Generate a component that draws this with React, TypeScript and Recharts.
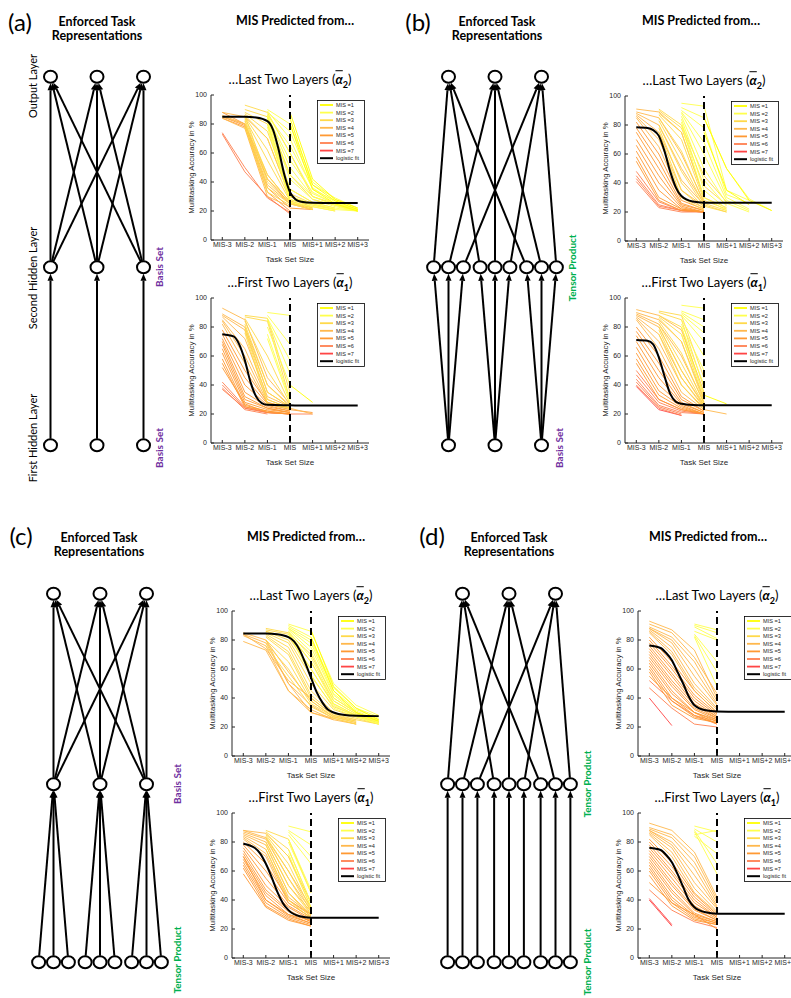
import React from "react";
import {
  LineChart,
  Line,
  XAxis,
  YAxis,
  ReferenceLine,
  Legend,
  ScatterChart,
  Scatter,
} from "recharts";

const N = null;
type MisRow = (number | null)[]; // [mis, v(MIS-3) .. v(MIS+3)]
type FitPt = [number, number];

const taskSetLabels = ["MIS-3", "MIS-2", "MIS-1", "MIS", "MIS+1", "MIS+2", "MIS+3"];
const xTicks = [0, 1, 2, 3, 4, 5, 6];
const yTicks = [0, 20, 40, 60, 80, 100];
const misLevels = [1, 2, 3, 4, 5, 6, 7];
const misColors = ["#ffff00", "#ffff4d", "#ffd94a", "#ffb84d", "#ff9933", "#ff7f50", "#ff4545"];

// (a) basis set / basis set
const linesA2: MisRow[] = [
  [6, 74, 50, 29, 19, N, N, N],
  [6, 73, 47, 30, 18, N, N, N],
  [5, 85, 79, 36, 22, 21, N, N],
  [5, 88, 80, 42, 25, 21, N, N],
  [5, 84, 78, 33, 20, N, N, N],
  [4, 88, 85, 70, 30, 22, N, N],
  [4, 86, 80, 45, 26, 21, N, N],
  [4, 85, 80, 38, 25, N, N, N],
  [4, 84, 77, 30, 23, N, N, N],
  [3, N, 93, 88, 60, 30, 25, 21],
  [3, N, 90, 85, 45, 28, 24, 20],
  [3, N, 88, 80, 35, 26, 22, N],
  [3, N, 87, 75, 32, 25, 21, N],
  [3, N, 86, 70, 30, 24, 21, N],
  [3, N, 85, 62, 28, 23, 20, N],
  [3, N, 84, 55, 27, 22, N, N],
  [3, N, 83, 45, 26, 22, N, N],
  [3, N, 82, 40, 25, 21, N, N],
  [3, N, 80, 36, 25, 21, N, N],
  [3, N, 78, 33, 24, N, N, N],
  [3, N, 86, 42, 27, 22, N, N],
  [2, N, N, 90, 80, 40, 28, 22],
  [2, N, N, 89, 70, 35, 27, 21],
  [2, N, N, 87, 60, 32, 25, 21],
  [2, N, N, 86, 50, 30, 24, 20],
  [2, N, N, 85, 42, 28, 23, 20],
  [2, N, N, 84, 35, 26, 22, 20],
  [2, N, N, 82, 30, 25, 21, 20],
  [2, N, N, 80, 28, 24, 21, N],
  [2, N, N, 88, 75, 38, 29, 22],
  [2, N, N, 78, 26, 23, 20, N],
  [2, N, N, 86, 65, 36, 26, 21],
  [2, N, N, 85, 55, 33, 25, 21],
  [2, N, N, 83, 45, 30, 24, 20],
  [1, N, N, N, 88, 42, 28, 22],
  [1, N, N, N, 84, 38, 27, 21],
  [1, N, N, N, 80, 35, 25, 20],
];
const fitA2: FitPt[] = [
  [0, 85], [0.5, 85], [1, 85], [1.5, 84.5], [2, 82], [2.25, 76], [2.5, 62], [2.75, 45],
  [3, 33], [3.25, 28], [3.5, 26.4], [4, 25.7], [5, 25.5], [6, 25.5],
];

const linesA1: MisRow[] = [
  [1, N, N, N, 40, 28, N, N],
  [2, N, N, 90, 88, N, N, N],
  [2, N, N, 88, 68, N, N, N],
  [2, N, N, 86, 57, N, N, N],
  [2, N, N, 85, 48, N, N, N],
  [2, N, N, 80, 40, N, N, N],
  [2, N, N, 75, 30, N, N, N],
  [2, N, N, 72, 28, N, N, N],
  [3, N, 88, 86, 35, N, N, N],
  [3, N, 87, 84, 30, N, N, N],
  [3, N, 86, 60, 27, N, N, N],
  [3, N, 84, 50, 26, N, N, N],
  [3, N, 82, 40, 25, N, N, N],
  [3, N, 80, 35, 25, N, N, N],
  [3, N, 78, 30, 24, N, N, N],
  [3, N, 76, 27, 24, N, N, N],
  [4, 93, 85, 45, 27, N, N, N],
  [4, 89, 80, 40, 26, N, N, N],
  [4, 88, 78, 35, 25, N, N, N],
  [4, 87, 72, 32, 25, N, N, N],
  [4, 85, 65, 30, 24, 20, N, N],
  [4, 84, 60, 28, 24, N, N, N],
  [4, 82, 55, 27, 23, N, N, N],
  [5, 78, 50, 28, 24, N, N, N],
  [5, 75, 45, 27, 23, 21, N, N],
  [5, 72, 40, 26, 22, N, N, N],
  [5, 70, 35, 25, 22, N, N, N],
  [5, 68, 32, 24, 21, N, N, N],
  [5, 65, 30, 24, 21, N, N, N],
  [5, 62, 28, 23, 21, N, N, N],
  [5, 58, 26, 22, 20, N, N, N],
  [5, 55, 25, 22, 20, N, N, N],
  [5, 52, 27, 21, 20, N, N, N],
  [6, 42, 25, 21, 20, 20, N, N],
  [6, 40, 24, 21, 20, N, N, N],
  [6, 38, 23, 20, N, N, N, N],
  [6, 37, 24, 21, 20, N, N, N],
];
const fitA1: FitPt[] = [
  [0, 75], [0.5, 73.5], [0.75, 68], [1, 57], [1.25, 42], [1.5, 32], [1.75, 27.5],
  [2, 26.3], [3, 26], [4, 25.8], [6, 25.8],
];

// (b) tensor product / basis set
const linesB2: MisRow[] = [
  [1, N, N, N, 85, 50, 28, 21],
  [1, N, N, N, 75, 35, 25, N],
  [2, N, N, 95, 93, 35, 28, N],
  [2, N, N, 92, 85, 50, 29, 21],
  [2, N, N, 90, 78, 32, 26, N],
  [2, N, N, 89, 68, 30, 22, N],
  [2, N, N, 88, 60, 28, 21, N],
  [2, N, N, 86, 50, 26, 20, N],
  [2, N, N, 84, 42, 24, N, N],
  [2, N, N, 82, 35, 22, N, N],
  [2, N, N, 80, 30, 21, N, N],
  [3, N, 91, 80, 45, 27, N, N],
  [3, N, 90, 78, 38, 25, N, N],
  [3, N, 88, 75, 30, 23, N, N],
  [3, N, 87, 70, 28, 22, N, N],
  [3, N, 85, 62, 26, 21, N, N],
  [3, N, 83, 55, 25, 20, N, N],
  [3, N, 80, 48, 24, 20, N, N],
  [3, N, 78, 40, 23, N, N, N],
  [3, N, 75, 35, 22, N, N, N],
  [3, N, 72, 30, 21, N, N, N],
  [4, 91, 89, 75, 30, N, N, N],
  [4, 89, 85, 60, 27, N, N, N],
  [4, 88, 80, 50, 26, N, N, N],
  [4, 87, 75, 42, 25, N, N, N],
  [4, 86, 70, 35, 24, N, N, N],
  [4, 85, 65, 30, 23, N, N, N],
  [5, 82, 60, 28, 22, N, N, N],
  [5, 78, 55, 26, 21, N, N, N],
  [5, 75, 50, 25, 21, N, N, N],
  [5, 70, 45, 24, 20, N, N, N],
  [5, 66, 40, 23, 20, N, N, N],
  [5, 62, 35, 22, 20, N, N, N],
  [5, 58, 30, 22, 20, N, N, N],
  [5, 55, 28, 21, 20, N, N, N],
  [6, 48, 27, 21, 20, N, N, N],
  [6, 45, 25, 21, 20, N, N, N],
  [6, 43, 24, 21, 20, N, N, N],
  [6, 41, 23, 20, 20, N, N, N],
];
const fitB2: FitPt[] = [
  [0, 78.5], [0.5, 78], [0.75, 76.5], [1, 72.5], [1.25, 62], [1.5, 48], [1.75, 37],
  [2, 31], [2.5, 27.2], [3, 26.4], [4, 26.3], [6, 26.3],
];

const linesB1: MisRow[] = [
  [1, N, N, N, 33, 27, N, N],
  [2, N, N, 95, 93, N, N, N],
  [2, N, N, 91, 85, N, N, N],
  [2, N, N, 90, 80, N, N, N],
  [2, N, N, 89, 76, N, N, N],
  [2, N, N, 88, 70, N, N, N],
  [2, N, N, 85, 60, N, N, N],
  [2, N, N, 82, 50, N, N, N],
  [2, N, N, 80, 40, N, N, N],
  [2, N, N, 75, 34, N, N, N],
  [3, N, 91, 88, 45, N, N, N],
  [3, N, 90, 85, 38, N, N, N],
  [3, N, 88, 80, 32, N, N, N],
  [3, N, 87, 75, 30, N, N, N],
  [3, N, 86, 70, 28, N, N, N],
  [3, N, 84, 62, 27, N, N, N],
  [3, N, 82, 55, 26, N, N, N],
  [3, N, 80, 50, 25, N, N, N],
  [3, N, 78, 45, 24, N, N, N],
  [3, N, 75, 40, 23, N, N, N],
  [4, 92, 88, 78, 35, N, N, N],
  [4, 90, 85, 70, 30, N, N, N],
  [4, 89, 82, 60, 28, N, N, N],
  [4, 88, 80, 50, 26, N, N, N],
  [4, 87, 75, 45, 25, N, N, N],
  [4, 86, 70, 40, 24, N, N, N],
  [4, 85, 65, 35, 23, 20, N, N],
  [5, 80, 60, 32, 22, N, N, N],
  [5, 77, 55, 30, 22, N, N, N],
  [5, 74, 50, 28, 21, N, N, N],
  [5, 70, 45, 27, 21, N, N, N],
  [5, 66, 40, 26, 20, N, N, N],
  [5, 62, 36, 25, 20, N, N, N],
  [5, 58, 33, 24, 20, N, N, N],
  [5, 55, 30, 23, 20, N, N, N],
  [6, 50, 30, 23, 20, N, N, N],
  [6, 47, 28, 22, 20, N, N, N],
  [6, 44, 26, 21, 20, N, N, N],
  [6, 42, 25, 20, N, N, N, N],
  [6, 40, 24, 19, N, N, N, N],
  [7, 39, 23, 19, N, N, N, N],
];
const fitB1: FitPt[] = [
  [0, 71], [0.5, 70.5], [0.75, 68], [1, 59], [1.25, 46], [1.5, 34], [1.75, 28.5],
  [2, 27], [2.5, 26.2], [3, 26], [6, 26],
];

// (c) basis set / tensor product
const linesC2: MisRow[] = [
  [4, 85, 80, 58, 38, 27, 23, N],
  [4, 84, 78, 50, 35, 26, 22, N],
  [4, 83, 76, 45, 32, 25, N, N],
  [4, 79, 73, 45, 30, 26, N, N],
  [4, 84, 74, 52, 40, 28, 24, N],
  [4, N, 80, 50, 30, 25, 22, N],
  [3, N, 88, 85, 70, 40, 30, 25],
  [3, N, 87, 84, 65, 38, 29, 24],
  [3, N, 86, 82, 60, 36, 28, 24],
  [3, N, 86, 80, 55, 34, 28, 23],
  [3, N, 85, 78, 50, 32, 27, 23],
  [3, N, 84, 75, 45, 30, 26, 22],
  [3, N, 83, 72, 42, 29, 25, 22],
  [3, N, 82, 70, 40, 28, 25, N],
  [3, N, 80, 65, 38, 27, 24, N],
  [3, N, 78, 60, 36, 27, 23, N],
  [3, N, 76, 55, 34, 26, 22, N],
  [2, N, N, 91, 86, 50, 35, 28],
  [2, N, N, 90, 82, 47, 33, 27],
  [2, N, N, 89, 80, 45, 32, 26],
  [2, N, N, 88, 78, 43, 31, 25],
  [2, N, N, 88, 75, 42, 30, 24],
  [2, N, N, 87, 72, 40, 30, 23],
  [2, N, N, 86, 68, 38, 29, 23],
  [2, N, N, 85, 65, 36, 28, 22],
  [2, N, N, 84, 60, 35, 27, 22],
  [2, N, N, 84, 56, 33, 27, N],
  [1, N, N, N, 87, 48, 33, 25],
  [1, N, N, N, 82, 45, 30, 24],
];
const fitC2: FitPt[] = [
  [0, 84.5], [1, 84.5], [1.5, 84], [2, 82], [2.25, 79], [2.5, 73], [2.75, 64], [3, 54],
  [3.25, 44], [3.5, 37], [3.75, 32], [4, 30], [4.5, 28.2], [5, 27.7], [6, 27.5],
];

const linesC1: MisRow[] = [
  [2, N, N, 91, 87, N, N, N],
  [2, N, N, 88, 78, N, N, N],
  [2, N, N, 87, 70, N, N, N],
  [2, N, N, 85, 65, N, N, N],
  [2, N, N, 82, 47, N, N, N],
  [2, N, N, 80, 45, N, N, N],
  [2, N, N, 75, 38, N, N, N],
  [2, N, N, 72, 35, N, N, N],
  [3, N, 88, 82, 45, N, N, N],
  [3, N, 87, 75, 38, N, N, N],
  [3, N, 86, 70, 35, N, N, N],
  [3, N, 85, 65, 33, N, N, N],
  [3, N, 84, 60, 32, N, N, N],
  [3, N, 83, 55, 30, N, N, N],
  [3, N, 80, 50, 30, N, N, N],
  [3, N, 78, 45, 28, N, N, N],
  [3, N, 75, 40, 27, N, N, N],
  [4, 88, 86, 70, 38, N, N, N],
  [4, 88, 83, 60, 35, N, N, N],
  [4, 87, 82, 55, 33, N, N, N],
  [4, 86, 80, 50, 32, N, N, N],
  [4, 85, 78, 45, 30, N, N, N],
  [4, 84, 75, 42, 30, N, N, N],
  [4, 83, 72, 40, 29, N, N, N],
  [4, 82, 70, 38, 28, N, N, N],
  [5, 80, 65, 40, 30, N, N, N],
  [5, 78, 60, 38, 28, N, N, N],
  [5, 76, 55, 36, 27, N, N, N],
  [5, 74, 50, 35, 26, N, N, N],
  [5, 72, 47, 33, 25, N, N, N],
  [5, 70, 45, 32, 25, N, N, N],
  [5, 68, 43, 30, 24, N, N, N],
  [5, 66, 40, 29, 24, N, N, N],
  [5, 64, 38, 28, 23, N, N, N],
  [5, 62, 36, 27, 22, N, N, N],
  [5, 58, 35, 26, 22, N, N, N],
  [5, 70, 40, 30, 26, N, N, N],
];
const fitC1: FitPt[] = [
  [0, 78.8], [0.5, 76], [0.75, 72], [1, 65], [1.25, 56], [1.5, 46], [1.75, 38],
  [2, 33], [2.5, 28.8], [3, 27.8], [4, 27.7], [6, 27.7],
];

// (d) tensor product / tensor product
const linesD2: MisRow[] = [
  [2, N, N, 91, 87, N, N, N],
  [2, N, N, 90, 85, N, N, N],
  [2, N, N, 89, 81, N, N, N],
  [2, N, N, 86, 80, N, N, N],
  [2, N, N, 84, 65, N, N, N],
  [2, N, N, 83, 58, N, N, N],
  [2, N, N, 82, 48, N, N, N],
  [4, 93, 87, 73, 40, N, N, N],
  [4, 91, 85, 68, 43, N, N, N],
  [4, 89, 82, 65, 38, N, N, N],
  [4, 88, 80, 60, 36, N, N, N],
  [4, 88, 78, 55, 35, N, N, N],
  [4, 87, 75, 50, 33, N, N, N],
  [4, 86, 72, 47, 32, N, N, N],
  [4, 85, 70, 45, 30, N, N, N],
  [5, 82, 65, 45, 30, N, N, N],
  [5, 80, 62, 42, 29, N, N, N],
  [5, 78, 60, 40, 28, N, N, N],
  [5, 76, 57, 38, 27, N, N, N],
  [5, 74, 55, 36, 27, N, N, N],
  [5, 72, 52, 35, 26, N, N, N],
  [5, 70, 50, 33, 26, N, N, N],
  [5, 68, 48, 32, 25, N, N, N],
  [5, 66, 45, 30, 25, N, N, N],
  [5, 64, 43, 30, 24, N, N, N],
  [5, 62, 40, 28, 24, N, N, N],
  [5, 60, 38, 27, 23, N, N, N],
  [5, 58, 35, 26, 23, N, N, N],
  [5, 55, 40, 30, 22, N, N, N],
  [6, 52, 38, 28, 22, N, N, N],
  [6, 47, 33, 22, 20, N, N, N],
  [7, 40, 21, N, N, N, N, N],
];
const fitD2: FitPt[] = [
  [0, 76.2], [0.5, 74.5], [0.75, 71], [1, 66], [1.25, 58], [1.5, 50], [1.75, 41],
  [2, 35], [2.5, 31.5], [3, 30.7], [4, 30.5], [6, 30.5],
];

const linesD1: MisRow[] = [
  [2, N, N, 91, 87, N, N, N],
  [2, N, N, 89, 80, N, N, N],
  [2, N, N, 85, 88, N, N, N],
  [2, N, N, 88, 65, N, N, N],
  [2, N, N, 87, 58, N, N, N],
  [2, N, N, 84, 72, N, N, N],
  [4, 93, 88, 73, 42, N, N, N],
  [4, 90, 85, 70, 40, N, N, N],
  [4, 89, 83, 66, 38, N, N, N],
  [4, 88, 80, 62, 36, N, N, N],
  [4, 88, 78, 57, 35, N, N, N],
  [4, 87, 76, 52, 34, N, N, N],
  [4, 86, 73, 48, 32, N, N, N],
  [4, 85, 70, 45, 31, N, N, N],
  [5, 82, 66, 44, 30, N, N, N],
  [5, 80, 63, 42, 29, N, N, N],
  [5, 78, 60, 40, 28, N, N, N],
  [5, 76, 58, 38, 28, N, N, N],
  [5, 74, 55, 36, 27, N, N, N],
  [5, 72, 52, 34, 26, N, N, N],
  [5, 70, 50, 33, 26, N, N, N],
  [5, 68, 47, 31, 25, N, N, N],
  [5, 66, 45, 30, 25, N, N, N],
  [5, 64, 42, 29, 24, N, N, N],
  [5, 62, 40, 28, 24, N, N, N],
  [5, 60, 38, 27, 23, N, N, N],
  [5, 57, 36, 26, 23, N, N, N],
  [5, 52, 38, 30, 20, N, N, N],
  [6, 47, 33, 25, 21, N, N, N],
  [7, 41, 23, N, N, N, N, N],
  [7, 40, 22, N, N, N, N, N],
];
const fitD1: FitPt[] = [
  [0, 76], [0.5, 74.5], [0.75, 71], [1, 66], [1.25, 58], [1.5, 49], [1.75, 40],
  [2, 35], [2.5, 31.5], [3, 30.6], [4, 30.5], [6, 30.5],
];

// network layouts: column position and layer level
const layerLevel = [0, 1, 2.07];
const basisCols = [0, 1, 2];
const tensorCols = [-0.32, 0, 0.32, 0.68, 1, 1.32, 1.68, 2, 2.32];

const titleFont = "Lato, 'Open Sans', sans-serif";
const axisFont = "'Liberation Sans', Arial, sans-serif";
const axisInk = "#262626";
const PLOT_W = 158;
const PLOT_H = 145;

type Pt = { x: number; y: number };
const layer = (cols: number[], level: number): Pt[] =>
  cols.map((x) => ({ x, y: layerLevel[level] }));

function ArrowEdge(props: any) {
  const { x1, y1, x2, y2 } = props;
  const dx = x2 - x1;
  const dy = y2 - y1;
  const len = Math.hypot(dx, dy) || 1;
  const ux = dx / len;
  const uy = dy / len;
  const r = 6.5;
  const sx = x1 + ux * r;
  const sy = y1 + uy * r;
  const ex = x2 - ux * r;
  const ey = y2 - uy * r;
  const bx = ex - ux * 7;
  const by = ey - uy * 7;
  const px = -uy * 3;
  const py = ux * 3;
  return (
    <g>
      <line x1={sx} y1={sy} x2={bx} y2={by} stroke="#000" strokeWidth={2} />
      <polygon points={`${ex},${ey} ${bx + px},${by + py} ${bx - px},${by - py}`} fill="#000" />
    </g>
  );
}

function NodeShape(props: any) {
  return (
    <ellipse cx={props.cx} cy={props.cy} rx={6.5} ry={6} fill="#fff" stroke="#000" strokeWidth={2} />
  );
}

function Network({ left, top, nodes, edges }: { left: number; top: number; nodes: Pt[]; edges: [Pt, Pt][] }) {
  return (
    <div style={{ position: "absolute", left, top }}>
      <ScatterChart width={186} height={404} margin={{ top: 0, right: 0, bottom: 0, left: 0 }}>
        <XAxis type="number" dataKey="x" domain={[-1, 3]} hide />
        <YAxis type="number" dataKey="y" domain={[-0.1, 2.17]} hide />
        {edges.map(([a, b], i) => (
          <ReferenceLine key={i} segment={[a, b]} shape={ArrowEdge} ifOverflow="visible" />
        ))}
        <Scatter data={nodes} shape={NodeShape} isAnimationActive={false} />
      </ScatterChart>
    </div>
  );
}

function buildNet(bottom: number[], middle: number[], topCols: number[]) {
  const bot = layer(bottom, 0);
  const mid = layer(middle, 1);
  const out = layer(topCols, 2);
  const edges: [Pt, Pt][] = [];
  // middle -> output
  if (middle.length === 3) {
    mid.forEach((m) => out.forEach((o) => edges.push([m, o])));
  } else {
    mid.forEach((m, k) => edges.push([m, out[k % 3]]));
  }
  // bottom -> middle
  if (bottom.length === middle.length) {
    bot.forEach((b, k) => edges.push([b, mid[k]]));
  } else if (bottom.length === 3) {
    mid.forEach((m, k) => edges.push([bot[Math.floor(k / 3)], m]));
  } else {
    bot.forEach((b, k) => edges.push([b, mid[Math.floor(k / 3)]]));
  }
  return { nodes: [...bot, ...mid, ...out], edges };
}

const netA = buildNet(basisCols, basisCols, basisCols);
const netB = buildNet(basisCols, tensorCols, basisCols);
const netC = buildNet(tensorCols, basisCols, basisCols);
const netD = buildNet(tensorCols, tensorCols, basisCols);

function MisLegend() {
  const rowY = (i: number) => 5 + i * 7.6;
  return (
    <svg width={48} height={64} style={{ display: "block" }}>
      <rect x={0.5} y={0.5} width={47} height={63} fill="#fff" stroke="#000" strokeWidth={0.8} />
      {misLevels.map((m, i) => (
        <g key={m}>
          <line x1={3} x2={16} y1={rowY(i)} y2={rowY(i)} stroke={misColors[i]} strokeWidth={1.8} />
          <text x={19} y={rowY(i)} dy="0.35em" fontSize={5.6} fontFamily={axisFont} fill={axisInk}>
            {`MIS =${m}`}
          </text>
        </g>
      ))}
      <line x1={3} x2={16} y1={rowY(7)} y2={rowY(7)} stroke="#000" strokeWidth={2} />
      <text x={19} y={rowY(7)} dy="0.35em" fontSize={5.6} fontFamily={axisFont} fill={axisInk}>
        logistic fit
      </text>
    </svg>
  );
}

function AlphaTitle({ layerNo }: { layerNo: number }) {
  return (
    <span>
      …{layerNo === 2 ? "Last" : "First"} Two Layers (
      <b>
        <i style={{ textDecoration: "overline" }}>α</i>
        <sub style={{ fontSize: "0.7em" }}>{layerNo}</sub>
      </b>
      )
    </span>
  );
}

function MisChart({
  plotLeft,
  plotTop,
  layerNo,
  lines,
  fit,
}: {
  plotLeft: number;
  plotTop: number;
  layerNo: number;
  lines: MisRow[];
  fit: FitPt[];
}) {
  const ordered = [...lines].sort((a, b) => (b[0] as number) - (a[0] as number));
  const fitData = fit.map(([x, y]) => ({ x, y }));
  return (
    <>
      <div
        style={{
          position: "absolute",
          left: plotLeft + PLOT_W / 2,
          top: plotTop - 13,
          transform: "translate(-50%, -50%)",
          whiteSpace: "nowrap",
          fontFamily: titleFont,
          fontSize: 13,
          lineHeight: "16px",
          color: "#000",
        }}
      >
        <AlphaTitle layerNo={layerNo} />
      </div>
      <div style={{ position: "absolute", left: plotLeft - 40, top: plotTop - 6 }}>
        <LineChart width={40 + PLOT_W + 6} height={6 + PLOT_H + 26} margin={{ top: 6, right: 6, bottom: 0, left: 0 }}>
          <XAxis
            type="number"
            dataKey="x"
            domain={[-0.5, 6.5]}
            ticks={xTicks}
            interval={0}
            tickFormatter={(v: number) => taskSetLabels[v]}
            tickSize={-3}
            tickMargin={5}
            height={26}
            stroke={axisInk}
            tick={{ fontSize: 7, fill: axisInk, fontFamily: axisFont }}
            label={{ value: "Task Set Size", position: "insideBottom", offset: 4, fontSize: 8, fill: axisInk, fontFamily: axisFont }}
          />
          <XAxis
            xAxisId="top"
            orientation="top"
            type="number"
            domain={[-0.5, 6.5]}
            ticks={xTicks}
            interval={0}
            tickFormatter={() => ""}
            tickSize={-3}
            height={0}
            stroke={axisInk}
          />
          <YAxis
            type="number"
            domain={[0, 100]}
            ticks={yTicks}
            interval={0}
            tickSize={-3}
            tickMargin={7}
            width={40}
            stroke={axisInk}
            tick={{ fontSize: 7, fill: axisInk, fontFamily: axisFont }}
            label={{ value: "Multitasking Accuracy in %", angle: -90, position: "center", fontSize: 7.8, fill: axisInk, fontFamily: axisFont }}
          />
          <YAxis
            yAxisId="right"
            orientation="right"
            type="number"
            domain={[0, 100]}
            ticks={yTicks}
            interval={0}
            tickFormatter={() => ""}
            tickSize={-3}
            width={0}
            stroke={axisInk}
          />
          {ordered.map((row, i) => {
            const mis = row[0] as number;
            const pts = row
              .slice(1)
              .map((v, x) => ({ x, y: v }))
              .filter((p) => p.y !== null);
            return (
              <Line
                key={i}
                data={pts}
                dataKey="y"
                type="linear"
                stroke={misColors[mis - 1]}
                strokeOpacity={0.9}
                strokeWidth={1}
                dot={false}
                activeDot={false}
                isAnimationActive={false}
              />
            );
          })}
          <ReferenceLine x={3} stroke="#000" strokeWidth={2} strokeDasharray="7 4" />
          <Line
            data={fitData}
            dataKey="y"
            type="monotone"
            stroke="#000"
            strokeWidth={2}
            dot={false}
            activeDot={false}
            isAnimationActive={false}
          />
          <Legend
            layout="vertical"
            align="center"
            verticalAlign="middle"
            wrapperStyle={{ left: 40 + PLOT_W - 4 - 48, top: 6 + 5, width: 48, height: 64 }}
            content={() => <MisLegend />}
          />
        </LineChart>
      </div>
    </>
  );
}

function Txt({
  x,
  y,
  children,
  size = 12,
  bold = false,
  color = "#000",
  rotate = false,
}: {
  x: number;
  y: number;
  children: React.ReactNode;
  size?: number;
  bold?: boolean;
  color?: string;
  rotate?: boolean;
}) {
  return (
    <div
      style={{
        position: "absolute",
        left: x,
        top: y,
        transform: `translate(-50%, -50%)${rotate ? " rotate(-90deg)" : ""}`,
        whiteSpace: "nowrap",
        fontFamily: titleFont,
        fontSize: size,
        fontWeight: bold ? 700 : 400,
        color,
        lineHeight: 1.15,
        textAlign: "center",
      }}
    >
      {children}
    </div>
  );
}

const purple = "#7030a0";
const green = "#00b050";

function PanelHeader({ letter, lx, ly, ex, mx, y }: { letter: string; lx: number; ly: number; ex: number; mx: number; y: number }) {
  return (
    <>
      <Txt x={lx} y={ly} size={24}>
        {`(${letter})`}
      </Txt>
      <Txt x={ex} y={y + 8} size={12.5} bold>
        Enforced Task
        <br />
        Representations
      </Txt>
      <Txt x={mx} y={y} size={12.5} bold>
        MIS Predicted from…
      </Txt>
    </>
  );
}

export default function App() {
  return (
    <div
      style={{
        position: "absolute",
        left: 0,
        top: 0,
        width: 791,
        height: 998,
        overflow: "hidden",
        background: "#fff",
      }}
    >
      {/* (a) */}
      <PanelHeader letter="a" lx={20} ly={22} ex={97} mx={295} y={21} />
      <Network left={3.5} top={58.8} nodes={netA.nodes} edges={netA.edges} />
      <Txt x={33} y={86} size={11} rotate>Output Layer</Txt>
      <Txt x={33} y={278} size={11} rotate>Second Hidden Layer</Txt>
      <Txt x={33} y={438} size={11} rotate>First Hidden Layer</Txt>
      <Txt x={160} y={267} size={10} bold color={purple} rotate>Basis Set</Txt>
      <Txt x={160} y={448} size={10} bold color={purple} rotate>Basis Set</Txt>
      <MisChart plotLeft={211} plotTop={95} layerNo={2} lines={linesA2} fit={fitA2} />
      <MisChart plotLeft={211} plotTop={298} layerNo={1} lines={linesA1} fit={fitA1} />

      {/* (b) */}
      <PanelHeader letter="b" lx={418} ly={22} ex={497} mx={701} y={21} />
      <Network left={401.5} top={58.8} nodes={netB.nodes} edges={netB.edges} />
      <Txt x={573} y={268} size={10} bold color={green} rotate>Tensor Product</Txt>
      <Txt x={560} y={448} size={10} bold color={purple} rotate>Basis Set</Txt>
      <MisChart plotLeft={625} plotTop={96} layerNo={2} lines={linesB2} fit={fitB2} />
      <MisChart plotLeft={625} plotTop={298} layerNo={1} lines={linesB1} fit={fitB1} />

      {/* (c) */}
      <PanelHeader letter="c" lx={21} ly={536} ex={99} mx={306} y={537} />
      <Network left={6.5} top={575.8} nodes={netC.nodes} edges={netC.edges} />
      <Txt x={178} y={784} size={10} bold color={purple} rotate>Basis Set</Txt>
      <Txt x={178} y={960} size={10} bold color={green} rotate>Tensor Product</Txt>
      <MisChart plotLeft={232} plotTop={611} layerNo={2} lines={linesC2} fit={fitC2} />
      <MisChart plotLeft={232} plotTop={813} layerNo={1} lines={linesC1} fit={fitC1} />

      {/* (d) */}
      <PanelHeader letter="d" lx={432} ly={536} ex={509} mx={708} y={537} />
      <Network left={415.5} top={575.8} nodes={netD.nodes} edges={netD.edges} />
      <Txt x={588} y={784} size={10} bold color={green} rotate>Tensor Product</Txt>
      <Txt x={588} y={962} size={10} bold color={green} rotate>Tensor Product</Txt>
      <MisChart plotLeft={638} plotTop={611} layerNo={2} lines={linesD2} fit={fitD2} />
      <MisChart plotLeft={638} plotTop={813} layerNo={1} lines={linesD1} fit={fitD1} />
    </div>
  );
}
